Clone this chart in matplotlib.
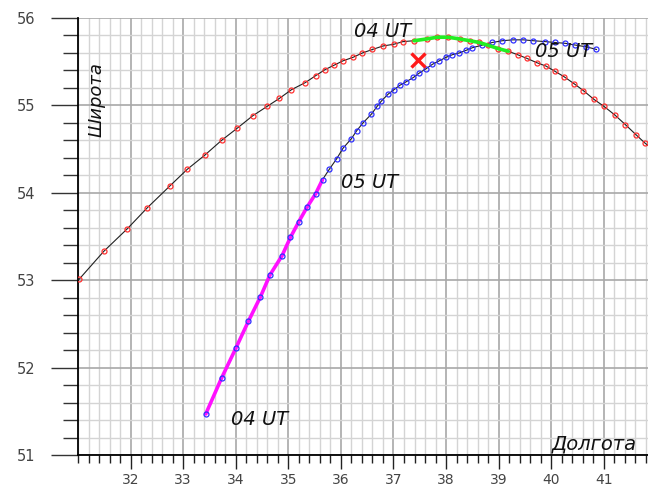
import matplotlib
matplotlib.use("Agg")
import matplotlib.pyplot as plt
from matplotlib.ticker import MultipleLocator, FixedLocator

# ---- data: track 1 (red markers, black line) ----
red_lon = [31.02, 31.49, 31.94, 32.32, 32.75, 33.08, 33.41, 33.73, 34.03, 34.32,
           34.60, 34.83, 35.06, 35.32, 35.52, 35.70, 35.87, 36.04, 36.23, 36.41,
           36.60, 36.80, 37.01, 37.18, 37.39, 37.63, 37.83, 38.04, 38.26, 38.45,
           38.63, 38.79, 38.99, 39.18, 39.36, 39.53, 39.72, 39.90, 40.07, 40.24,
           40.43, 40.61, 40.81, 41.00, 41.21, 41.41, 41.62, 41.78, 41.95]
red_lat = [53.01, 53.33, 53.59, 53.83, 54.08, 54.27, 54.43, 54.60, 54.74, 54.88,
           54.99, 55.08, 55.18, 55.26, 55.34, 55.41, 55.46, 55.51, 55.55, 55.60,
           55.64, 55.68, 55.70, 55.73, 55.74, 55.76, 55.78, 55.78, 55.76, 55.74,
           55.72, 55.69, 55.65, 55.62, 55.58, 55.54, 55.49, 55.45, 55.39, 55.33,
           55.25, 55.17, 55.07, 54.99, 54.89, 54.78, 54.66, 54.57, 54.49]
red_seg = (24, 34)   # 04 UT .. 05 UT part (green)

# ---- data: track 2 (blue markers, black line) ----
blue_lon = [33.43, 33.73, 34.00, 34.24, 34.47, 34.65, 34.88, 35.04, 35.20, 35.36,
            35.52, 35.65, 35.78, 35.92, 36.04, 36.20, 36.30, 36.42, 36.58, 36.69,
            36.77, 36.90, 37.01, 37.12, 37.24, 37.38, 37.49, 37.62, 37.74, 37.87,
            38.00, 38.12, 38.25, 38.38, 38.50, 38.69, 38.88, 39.07, 39.27, 39.47,
            39.66, 39.88, 40.07, 40.27, 40.46, 40.67, 40.86]
blue_lat = [51.47, 51.88, 52.22, 52.53, 52.81, 53.06, 53.28, 53.49, 53.67, 53.84,
            53.99, 54.15, 54.27, 54.39, 54.51, 54.62, 54.71, 54.80, 54.90, 54.99,
            55.05, 55.13, 55.18, 55.23, 55.27, 55.32, 55.37, 55.42, 55.47, 55.51,
            55.55, 55.58, 55.60, 55.63, 55.66, 55.69, 55.72, 55.74, 55.75, 55.75,
            55.74, 55.73, 55.72, 55.71, 55.69, 55.67, 55.64]
blue_seg = (0, 12)   # 04 UT .. 05 UT part (magenta)

# observation point
obs_lon = [37.47]
obs_lat = [55.52]

x_ticks = [32, 33, 34, 35, 36, 37, 38, 39, 40, 41]
y_ticks = [51, 52, 53, 54, 55, 56]

labels = [("04 UT", 36.80, 55.85), ("05 UT", 40.23, 55.62),
          ("05 UT", 36.54, 54.12), ("04 UT", 34.46, 51.41)]

fig = plt.figure(figsize=(6.48, 4.90), dpi=100)
ax = fig.add_axes([78/648, 35/490, 1 - 78/648, 437/490])
ax.set_xlim(31, 41.84)
ax.set_ylim(51, 56)

# grid
ax.xaxis.set_minor_locator(MultipleLocator(0.2))
ax.yaxis.set_minor_locator(MultipleLocator(0.2))
ax.xaxis.set_major_locator(FixedLocator(x_ticks))
ax.yaxis.set_major_locator(FixedLocator(y_ticks))
ax.grid(which='minor', color='#d4d4d4', linewidth=1.0, zorder=0)
ax.grid(which='major', color='#a8a8a8', linewidth=1.2, zorder=0)
ax.set_axisbelow(True)

for s in ['top', 'right']:
    ax.spines[s].set_visible(False)
ax.spines['left'].set_linewidth(1.3)
ax.spines['bottom'].set_linewidth(1.3)

ax.tick_params(axis='y', which='major', direction='out', length=19.5, width=1.0,
               color='#333333', pad=11, labelsize=10.5, labelcolor='#444444')
ax.tick_params(axis='y', which='minor', direction='out', length=11, width=1.0,
               color='#333333')
ax.tick_params(axis='x', which='major', direction='out', length=10, width=1.0,
               color='#222222', pad=3, labelsize=10, labelcolor='#444444')
ax.tick_params(axis='x', which='minor', direction='out', length=5.8, width=1.0,
               color='#222222')
ax.set_xticklabels([str(v) for v in x_ticks])
ax.set_yticklabels([str(v) for v in y_ticks])

# tracks
ax.plot(red_lon, red_lat, color='#202020', linewidth=0.8, zorder=3)
ax.plot(red_lon, red_lat, linestyle='none', marker='o', markersize=3.6,
        markerfacecolor='none', markeredgecolor='#ff3030', markeredgewidth=0.9, zorder=4)
a, b = red_seg
ax.plot(red_lon[a:b], red_lat[a:b], color='#22ee22', linewidth=2.6, zorder=5,
        solid_capstyle='round')

ax.plot(blue_lon, blue_lat, color='#202020', linewidth=0.8, zorder=3)
a, b = blue_seg
ax.plot(blue_lon[a:b], blue_lat[a:b], color='#ff10ff', linewidth=2.6, zorder=3.5,
        solid_capstyle='round')
ax.plot(blue_lon, blue_lat, linestyle='none', marker='o', markersize=3.6,
        markerfacecolor='none', markeredgecolor='#3030ff', markeredgewidth=0.9, zorder=4)

ax.plot(obs_lon, obs_lat, linestyle='none', marker='x', markersize=10,
        markeredgecolor='#ff1a1a', markeredgewidth=2.4, zorder=6)

for txt, x, y in labels:
    ax.text(x, y, txt, ha='center', va='center', fontsize=14, style='italic',
            family='DejaVu Sans', color='#111111', zorder=7)

ax.text(31.36, 55.07, 'Широта', rotation=90, ha='center', va='center',
        fontsize=13, style='italic', family='DejaVu Sans', color='#111111', zorder=7)
ax.text(41.63, 51.13, 'Долгота', ha='right', va='center',
        fontsize=14, style='italic', family='DejaVu Sans', color='#111111', zorder=7)

fig.savefig('out.png', dpi=100)
